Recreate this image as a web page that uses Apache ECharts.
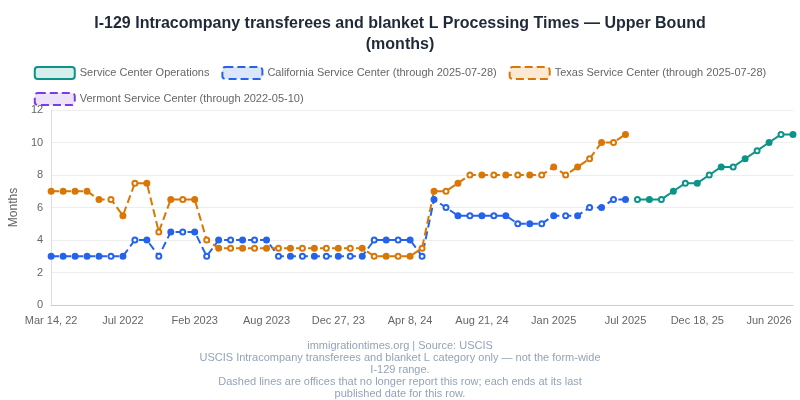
<!DOCTYPE html>
<html><head><meta charset="utf-8">
<script src="https://cdn.jsdelivr.net/npm/echarts@6/dist/echarts.min.js"></script>
<style>html,body{margin:0;background:#fff}#c{width:800px;height:400px}</style>
</head><body><div id="c"></div>
<script>
// x positions are report dates; only some carry a visible label
const labels = {0:'Mar 14, 22',6:'Jul 2022',12:'Feb 2023',18:'Aug 2023',24:'Dec 27, 23',30:'Apr 8, 24',36:'Aug 21, 24',42:'Jan 2025',48:'Jul 2025',54:'Dec 18, 25',60:'Jun 2026'};
const categories = Array.from({length: 63}, (_, i) => labels[i] || ('p' + i));

const california = [3,3,3,3,3,3,3,4,4,3,4.5,4.5,4.5,3,4,4,4,4,4,3,3,3,3,3,3,3,3,4,4,4,4,3,
  6.5,6,5.5,5.5,5.5,5.5,5.5,5,5,5,5.5,5.5,5.5,6,6,6.5,6.5];
const texas = [7,7,7,7,6.5,6.5,5.5,7.5,7.5,4.5,6.5,6.5,6.5,4,3.5,3.5,3.5,3.5,3.5,3.5,3.5,3.5,3.5,3.5,3.5,3.5,3.5,3,3,3,3,3.5,
  7,7,7.5,8,8,8,8,8,8,8,8.5,8,8.5,9,10,10,10.5];
const serviceCenter = [6.5,6.5,6.5,7,7.5,7.5,8,8.5,8.5,9,9.5,10,10.5,10.5];
const scStart = 49;

function pts(vals, offset) {
  return vals.map((v, i) => {
    const idx = i + offset;
    return (idx >= 5 && idx % 2 === 1) ? {value: v, itemStyle: {color: '#fff'}} : v;
  });
}
const scData = new Array(scStart).fill('-').concat(pts(serviceCenter, scStart));

function line(name, color, data, dashed) {
  return {
    name, type: 'line', data, symbol: 'circle', symbolSize: 5, connectNulls: false,
    lineStyle: {color, width: 2, type: dashed ? 'dashed' : 'solid'},
    itemStyle: {color, borderColor: color, borderWidth: 2}
  };
}
function legendItem(name, color, fill, dashed) {
  return {name, icon: 'roundRect', itemStyle: {color: fill, borderColor: color, borderWidth: 2, borderType: dashed ? 'dashed' : 'solid'}};
}

const chart = echarts.init(document.getElementById('c'));
chart.setOption({
  animation: false,
  title: {
    text: 'I-129 Intracompany transferees and blanket L Processing Times — Upper Bound\n(months)',
    left: 'center', top: 8,
    textStyle: {fontSize: 16, fontWeight: 'bold', color: '#1f2937', lineHeight: 21, fontFamily: 'Liberation Sans'}
  },
  legend: {
    top: 66, left: 'center', width: 790, itemWidth: 40, itemHeight: 12, itemGap: 12, padding: [0, 5],
    textStyle: {color: '#666', fontSize: 11, fontFamily: 'Liberation Sans'},
    data: [
      legendItem('Service Center Operations', '#0d9488', '#d7efec', false),
      legendItem('California Service Center (through 2025-07-28)', '#2563eb', '#dbe6fb', true),
      legendItem('Texas Service Center (through 2025-07-28)', '#d97706', '#fbe9d2', true),
      legendItem('Vermont Service Center (through 2022-05-10)', '#7c3aed', '#ece3fb', true)
    ]
  },
  grid: {left: 46, right: 7, top: 110, bottom: 95},
  xAxis: {
    type: 'category', data: categories, boundaryGap: false,
    axisTick: {show: false},
    axisLine: {lineStyle: {color: '#ccc'}},
    axisLabel: {interval: 5, color: '#666', fontSize: 11, margin: 10, fontFamily: 'Liberation Sans'}
  },
  yAxis: {
    type: 'value', min: 0, max: 12, interval: 2, name: 'Months', nameLocation: 'middle', nameGap: 28,
    nameTextStyle: {color: '#666', fontSize: 12},
    axisLabel: {color: '#666', fontSize: 11},
    splitLine: {lineStyle: {color: '#eee'}},
    axisLine: {show: true, lineStyle: {color: '#ddd'}}
  },
  series: [
    line('Service Center Operations', '#0d9488', scData, false),
    line('California Service Center (through 2025-07-28)', '#2563eb', pts(california, 0), true),
    line('Texas Service Center (through 2025-07-28)', '#d97706', pts(texas, 0), true),
    line('Vermont Service Center (through 2022-05-10)', '#7c3aed', [], true)
  ],
  graphic: [{
    type: 'text', x: 400, y: 340,
    style: {
      text: 'immigrationtimes.org | Source: USCIS\nUSCIS Intracompany transferees and blanket L category only — not the form-wide\nI-129 range.\nDashed lines are offices that no longer report this row; each ends at its last\npublished date for this row.',
      fill: '#94a3b8', fontSize: 11, lineHeight: 12, textAlign: 'center', fontFamily: 'Liberation Sans'
    }
  }]
});
</script></body></html>
